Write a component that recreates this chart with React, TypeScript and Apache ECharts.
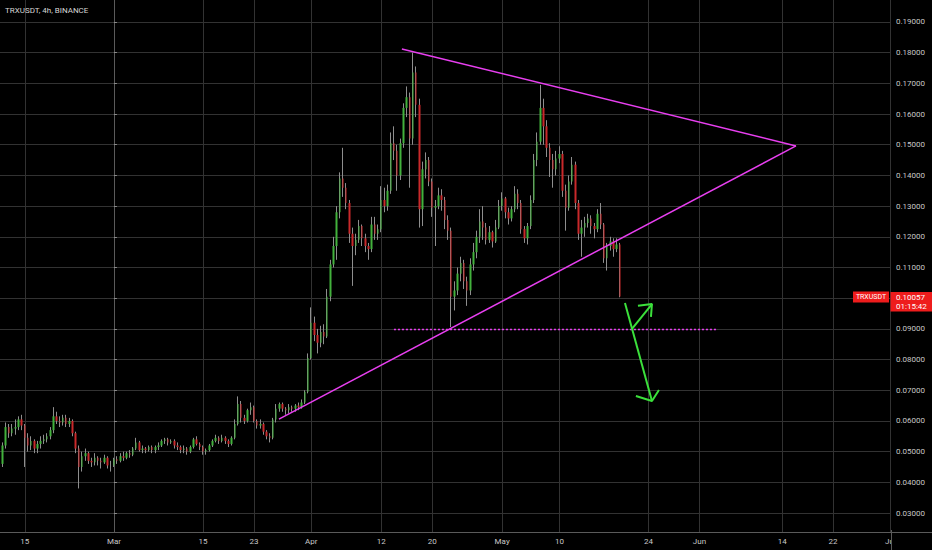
import React, { useEffect, useRef } from "react";
import * as echarts from "echarts";

const TITLE = "TRXUSDT, 4h, BINANCE";
const SYMBOL = "TRXUSDT";
const LAST_PRICE = 0.10057;
const COUNTDOWN = "01:15:42";

// 12h bars; x is measured in days from 2021-03-01. First bar: 2021-02-11 12:00
const FIRST_BAR_DAY = -17.5;
const BAR_DAYS = 0.5;

// [open, high, low, close]
const candles: number[][] = [
  [0.046, 0.053, 0.045, 0.052], [0.052, 0.0595, 0.051, 0.058], [0.058, 0.059, 0.0545, 0.056], [0.056, 0.059, 0.055, 0.0575],
  [0.0575, 0.0605, 0.0555, 0.058], [0.058, 0.0615, 0.057, 0.0605], [0.0605, 0.062, 0.057, 0.0585], [0.0585, 0.059, 0.045, 0.0545],
  [0.0545, 0.056, 0.05, 0.052], [0.052, 0.055, 0.0505, 0.0535], [0.0535, 0.054, 0.0495, 0.051], [0.051, 0.0535, 0.0495, 0.0525],
  [0.0525, 0.055, 0.051, 0.0535], [0.0535, 0.0555, 0.0525, 0.054], [0.054, 0.056, 0.053, 0.055], [0.055, 0.058, 0.054, 0.057],
  [0.057, 0.0645, 0.056, 0.0615], [0.0615, 0.063, 0.059, 0.06], [0.06, 0.0615, 0.058, 0.0595], [0.0595, 0.062, 0.0585, 0.061],
  [0.061, 0.062, 0.058, 0.059], [0.059, 0.061, 0.058, 0.06], [0.06, 0.0605, 0.055, 0.056], [0.056, 0.0565, 0.0495, 0.051],
  [0.051, 0.052, 0.038, 0.045], [0.045, 0.05, 0.0435, 0.0485], [0.0485, 0.051, 0.047, 0.0495], [0.0495, 0.05, 0.046, 0.047],
  [0.047, 0.048, 0.045, 0.0465], [0.0465, 0.0495, 0.0455, 0.048], [0.048, 0.0485, 0.0455, 0.047], [0.047, 0.048, 0.0445, 0.0465],
  [0.0465, 0.049, 0.046, 0.048], [0.048, 0.0485, 0.0445, 0.0455], [0.0455, 0.047, 0.0435, 0.0455], [0.0455, 0.048, 0.045, 0.0475],
  [0.0475, 0.0485, 0.046, 0.047], [0.047, 0.0495, 0.0465, 0.0485], [0.0485, 0.05, 0.047, 0.048], [0.048, 0.05, 0.0475, 0.0495],
  [0.0495, 0.0505, 0.048, 0.049], [0.049, 0.0515, 0.0485, 0.051], [0.051, 0.0545, 0.0505, 0.053], [0.053, 0.0535, 0.05, 0.0505],
  [0.0505, 0.052, 0.0495, 0.051], [0.051, 0.0515, 0.0495, 0.0505], [0.0505, 0.052, 0.05, 0.0515], [0.0515, 0.052, 0.0495, 0.0505],
  [0.0505, 0.052, 0.0495, 0.0515], [0.0515, 0.053, 0.0505, 0.052], [0.052, 0.054, 0.0515, 0.0535], [0.0535, 0.0545, 0.0525, 0.054],
  [0.054, 0.0545, 0.052, 0.053], [0.053, 0.054, 0.0525, 0.0535], [0.0535, 0.054, 0.051, 0.052], [0.052, 0.053, 0.0505, 0.0515],
  [0.0515, 0.052, 0.0495, 0.0505], [0.0505, 0.052, 0.0495, 0.051], [0.051, 0.0515, 0.049, 0.05], [0.05, 0.052, 0.0495, 0.0515],
  [0.0515, 0.0545, 0.051, 0.054], [0.054, 0.055, 0.052, 0.0525], [0.0525, 0.053, 0.0505, 0.0515], [0.0515, 0.052, 0.049, 0.05],
  [0.05, 0.051, 0.049, 0.0505], [0.0505, 0.0525, 0.05, 0.052], [0.052, 0.054, 0.0515, 0.0535], [0.0535, 0.0555, 0.053, 0.0545],
  [0.0545, 0.055, 0.0525, 0.0535], [0.0535, 0.0555, 0.053, 0.0545], [0.0545, 0.055, 0.0525, 0.0535], [0.0535, 0.054, 0.0515, 0.0525],
  [0.0525, 0.055, 0.052, 0.0545], [0.0545, 0.0605, 0.054, 0.059], [0.059, 0.068, 0.0585, 0.0655], [0.0655, 0.0665, 0.0595, 0.061],
  [0.061, 0.062, 0.059, 0.06], [0.06, 0.064, 0.0595, 0.0635], [0.0635, 0.066, 0.062, 0.0645], [0.0645, 0.065, 0.0595, 0.06],
  [0.06, 0.0605, 0.0575, 0.0585], [0.0585, 0.0605, 0.0575, 0.059], [0.059, 0.0595, 0.0555, 0.0565], [0.0565, 0.057, 0.054, 0.055],
  [0.055, 0.056, 0.053, 0.0545], [0.0545, 0.061, 0.054, 0.0605], [0.0605, 0.0655, 0.0595, 0.064], [0.064, 0.066, 0.063, 0.0655],
  [0.0655, 0.066, 0.063, 0.064], [0.064, 0.0645, 0.062, 0.0635], [0.0635, 0.0655, 0.0625, 0.0645], [0.0645, 0.065, 0.063, 0.064],
  [0.064, 0.0655, 0.063, 0.065], [0.065, 0.066, 0.0635, 0.0645], [0.0645, 0.067, 0.064, 0.066], [0.066, 0.07, 0.0655, 0.0695],
  [0.0695, 0.082, 0.069, 0.0805], [0.0805, 0.097, 0.08, 0.092], [0.092, 0.094, 0.086, 0.088], [0.088, 0.09, 0.082, 0.0855],
  [0.0855, 0.091, 0.084, 0.089], [0.089, 0.0915, 0.085, 0.0875], [0.0875, 0.103, 0.087, 0.1005], [0.1005, 0.1125, 0.099, 0.111],
  [0.111, 0.12, 0.11, 0.117], [0.117, 0.13, 0.1125, 0.128], [0.128, 0.141, 0.126, 0.139], [0.139, 0.149, 0.133, 0.136],
  [0.136, 0.1375, 0.129, 0.131], [0.131, 0.132, 0.118, 0.121], [0.121, 0.123, 0.104, 0.117], [0.117, 0.121, 0.114, 0.119],
  [0.119, 0.1255, 0.118, 0.1235], [0.1235, 0.124, 0.117, 0.1195], [0.1195, 0.121, 0.115, 0.117], [0.117, 0.118, 0.1125, 0.116],
  [0.116, 0.1265, 0.115, 0.124], [0.124, 0.1265, 0.119, 0.121], [0.121, 0.124, 0.119, 0.1225], [0.1225, 0.1365, 0.1215, 0.132],
  [0.132, 0.136, 0.128, 0.13], [0.13, 0.137, 0.1285, 0.135], [0.135, 0.154, 0.134, 0.1505], [0.1505, 0.156, 0.145, 0.148],
  [0.148, 0.15, 0.135, 0.14], [0.14, 0.152, 0.1385, 0.1505], [0.1505, 0.1635, 0.149, 0.162], [0.162, 0.169, 0.159, 0.1655],
  [0.1655, 0.167, 0.136, 0.152], [0.152, 0.18, 0.15, 0.1735], [0.1735, 0.1755, 0.159, 0.163], [0.163, 0.165, 0.123, 0.129],
  [0.129, 0.1445, 0.1235, 0.142], [0.142, 0.1475, 0.139, 0.145], [0.145, 0.146, 0.1365, 0.138], [0.138, 0.139, 0.1265, 0.1295],
  [0.1295, 0.132, 0.117, 0.13], [0.13, 0.136, 0.129, 0.1335], [0.1335, 0.1355, 0.1285, 0.132], [0.132, 0.133, 0.1225, 0.1255],
  [0.1255, 0.127, 0.119, 0.122], [0.122, 0.123, 0.0906, 0.1005], [0.1005, 0.1055, 0.096, 0.1025], [0.1025, 0.11, 0.101, 0.108],
  [0.108, 0.1135, 0.1055, 0.1115], [0.1115, 0.1125, 0.103, 0.1055], [0.1055, 0.107, 0.0975, 0.1025], [0.1025, 0.113, 0.101, 0.111],
  [0.111, 0.118, 0.109, 0.115], [0.115, 0.122, 0.113, 0.12], [0.12, 0.129, 0.118, 0.125], [0.125, 0.13, 0.119, 0.123],
  [0.123, 0.1245, 0.1175, 0.119], [0.119, 0.1235, 0.118, 0.1215], [0.1215, 0.122, 0.1165, 0.1185], [0.1185, 0.1255, 0.118, 0.123],
  [0.123, 0.132, 0.1225, 0.13], [0.13, 0.1345, 0.1285, 0.1325], [0.1325, 0.133, 0.126, 0.128], [0.128, 0.1295, 0.124, 0.126],
  [0.126, 0.13, 0.125, 0.129], [0.129, 0.1365, 0.128, 0.134], [0.134, 0.1355, 0.129, 0.131], [0.131, 0.132, 0.121, 0.1225],
  [0.1225, 0.1235, 0.118, 0.1195], [0.1195, 0.1245, 0.1175, 0.1235], [0.1235, 0.1335, 0.1225, 0.132], [0.132, 0.147, 0.131, 0.145],
  [0.145, 0.154, 0.143, 0.151], [0.151, 0.1695, 0.15, 0.162], [0.162, 0.165, 0.15, 0.156], [0.156, 0.158, 0.146, 0.149],
  [0.149, 0.1505, 0.1395, 0.145], [0.145, 0.147, 0.136, 0.142], [0.142, 0.148, 0.14, 0.1455], [0.1455, 0.1495, 0.144, 0.147],
  [0.147, 0.148, 0.133, 0.135], [0.135, 0.137, 0.122, 0.1295], [0.1295, 0.14, 0.1285, 0.138], [0.138, 0.146, 0.137, 0.1435],
  [0.1435, 0.1445, 0.129, 0.131], [0.131, 0.132, 0.119, 0.121], [0.121, 0.1255, 0.1135, 0.123], [0.123, 0.1265, 0.12, 0.1245],
  [0.1245, 0.1275, 0.123, 0.126], [0.126, 0.127, 0.121, 0.1235], [0.1235, 0.1245, 0.1195, 0.1225], [0.1225, 0.129, 0.1215, 0.1275],
  [0.1275, 0.131, 0.1225, 0.124], [0.124, 0.1245, 0.1115, 0.113], [0.113, 0.118, 0.109, 0.117], [0.117, 0.12, 0.1155, 0.1185],
  [0.1185, 0.1195, 0.1135, 0.116], [0.116, 0.1195, 0.115, 0.1175], [0.1175, 0.118, 0.1003, 0.10057],
];

// date axis: days from 2021-03-01 and their labels
const dateTickDays = [-14, 0, 14, 22, 31, 42, 50, 61, 70, 84, 92, 105, 113, 122];
const dateTickLabels = ["15", "Mar", "15", "23", "Apr", "12", "20", "May", "10", "24", "Jun", "14", "22", "Jul"];
const priceTicks = [0.03, 0.04, 0.05, 0.06, 0.07, 0.08, 0.09, 0.1, 0.11, 0.12, 0.13, 0.14, 0.15, 0.16, 0.17, 0.18, 0.19];

// drawings, [day, price]
const upperTrend = [[45.25, 0.1812], [107.17, 0.1496]];
const lowerTrend = [[25.93, 0.0606], [107.17, 0.1496]];
const supportLevel = [[44.0, 0.0898], [94.6, 0.0898]];
const downArrow = [[80.3, 0.0984], [84.54, 0.0665]];
const downArrowHead = [[82.02, 0.0681], [84.54, 0.0665], [85.64, 0.0701]];
const upArrow = [[81.4, 0.09], [84.54, 0.0981]];
const upArrowHead = [[82.34, 0.0975], [84.54, 0.0981], [84.38, 0.0939]];

const FONT = "Roboto, 'Liberation Sans', sans-serif";
const MAGENTA = "#e83ff0";
const LIME = "#3be03b";
const GRID = "#323232";

export default function App() {
  const ref = useRef<HTMLDivElement>(null);
  useEffect(() => {
    const el = ref.current!;
    const chart = echarts.init(el, null, { renderer: "svg" });
    const xs = candles.map((_, i) => FIRST_BAR_DAY + i * BAR_DAYS);
    const wickData = candles.map(([o, h, l, c], i) => [xs[i], o, c, l, h]);
    const bodyData = candles.map(([o, h, l, c], i) => [xs[i], o, c, Math.min(o, c), Math.max(o, c)]);
    const labelMap = new Map<number, string>(dateTickDays.map((d, i) => [d, dateTickLabels[i]]));
    const drawLine = (data: number[][], color: string, width: number, type: any = "solid") => ({
      type: "line",
      data,
      symbol: "none",
      showSymbol: false,
      silent: true,
      clip: false,
      z: 5,
      lineStyle: { color, width, type, opacity: 1 },
    });
    chart.setOption({
      animation: false,
      backgroundColor: "#000000",
      title: {
        text: TITLE,
        left: 5,
        top: 6,
        padding: 0,
        textStyle: { color: "#d6d6d6", fontSize: 8, fontWeight: "normal", fontFamily: FONT },
      },
      grid: { left: 0, right: 41, top: 0, bottom: 18, containLabel: false },
      xAxis: {
        type: "value",
        min: -17.9,
        max: 122.1,
        axisLine: { show: true, lineStyle: { color: "#5a5a5a", width: 1 } },
        axisTick: { show: false, customValues: dateTickDays },
        axisLabel: {
          customValues: dateTickDays,
          formatter: (v: number) => labelMap.get(v) ?? "",
          color: "#c8c8c8",
          fontSize: 8,
          margin: 5,
          fontFamily: FONT,
        },
        splitLine: { show: true, lineStyle: { color: GRID, width: 1 } },
      },
      yAxis: {
        type: "value",
        position: "right",
        min: 0.02381,
        max: 0.19716,
        axisLine: { show: true, lineStyle: { color: "#5a5a5a", width: 1 } },
        axisTick: { show: true, length: 3, customValues: priceTicks, lineStyle: { color: "#8a8a8a" } },
        axisLabel: {
          customValues: priceTicks,
          formatter: (v: number) => v.toFixed(5),
          color: "#c8c8c8",
          fontSize: 8,
          margin: 5,
          fontFamily: FONT,
        },
        splitLine: { show: true, lineStyle: { color: GRID, width: 1 } },
      },
      series: [
        {
          type: "candlestick",
          data: wickData,
          encode: { x: 0, y: [1, 2, 3, 4] },
          barWidth: 1,
          silent: true,
          itemStyle: { color: "#8e8e8e", color0: "#8e8e8e", borderColor: "#8e8e8e", borderColor0: "#8e8e8e", borderWidth: 1 },
          z: 2,
        },
        {
          type: "candlestick",
          data: bodyData,
          encode: { x: 0, y: [1, 2, 3, 4] },
          barWidth: 2,
          silent: true,
          itemStyle: { color: "#42b13c", color0: "#c9292b", borderColor: "#42b13c", borderColor0: "#c9292b", borderWidth: 0 },
          z: 3,
        },
        drawLine(upperTrend, MAGENTA, 1.5),
        drawLine(lowerTrend, MAGENTA, 1.5),
        drawLine(supportLevel, MAGENTA, 1.4, [2, 2]),
        drawLine(downArrow, LIME, 2),
        drawLine(downArrowHead, LIME, 2),
        drawLine(upArrow, LIME, 2),
        drawLine(upArrowHead, LIME, 2),
      ],
    });

    const yPx = chart.convertToPixel({ yAxisIndex: 0 }, LAST_PRICE) as number;
    const axisX = 891;
    chart.setOption({
      graphic: [
        { type: "rect", z: 100, shape: { x: axisX + 0.5, y: 533, width: 45, height: 17 }, style: { fill: "#000000" } },
        { type: "line", z: 101, shape: { x1: axisX + 0.5, y1: 530, x2: axisX + 0.5, y2: 550 }, style: { stroke: "#5a5a5a", lineWidth: 1 } },
        { type: "line", z: 101, shape: { x1: axisX, y1: 532.5, x2: 932, y2: 532.5 }, style: { stroke: "#5a5a5a", lineWidth: 1 } },
        { type: "rect", z: 102, shape: { x: 853, y: yPx - 5, width: 36, height: 11 }, style: { fill: "#ee1c1c" } },
        {
          type: "text", z: 103, x: 871, y: yPx + 0.5,
          style: { text: SYMBOL, fill: "#ffffff", fontSize: 7, fontFamily: FONT, align: "center", verticalAlign: "middle" },
        },
        { type: "rect", z: 102, shape: { x: axisX - 0.5, y: yPx - 4.5, width: 42, height: 19.5 }, style: { fill: "#ee1c1c" } },
        {
          type: "text", z: 103, x: axisX + 5, y: yPx + 1,
          style: { text: LAST_PRICE.toFixed(5), fill: "#ffffff", fontSize: 8, fontFamily: FONT, align: "left", verticalAlign: "middle" },
        },
        {
          type: "text", z: 103, x: axisX + 5, y: yPx + 10,
          style: { text: COUNTDOWN, fill: "#ffffff", fontSize: 8, fontFamily: FONT, align: "left", verticalAlign: "middle" },
        },
      ],
    });
    return () => chart.dispose();
  }, []);
  return <div ref={ref} style={{ position: "fixed", left: 0, top: 0, width: 932, height: 550 }} />;
}
